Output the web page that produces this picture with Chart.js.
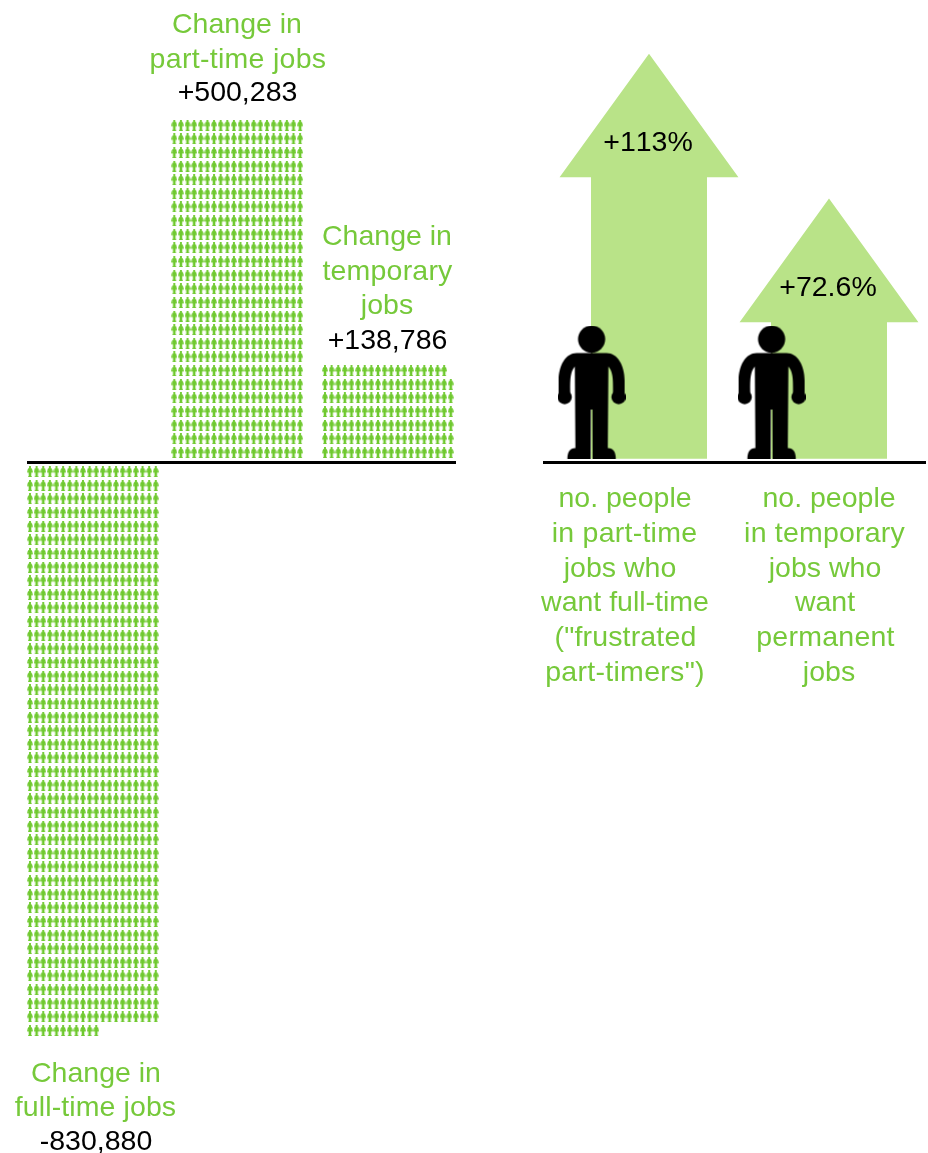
<!DOCTYPE html>
<html>
<head>
<meta charset="utf-8">
<title>Changes in employment</title>
<script src="https://cdn.jsdelivr.net/npm/chart.js@4/dist/chart.umd.min.js"></script>
<style>
  html, body { margin: 0; padding: 0; background: #ffffff; }
  canvas { display: block; }
</style>
</head>
<body>
<canvas id="chart" width="928" height="1153"></canvas>
<script>
// Job changes, one small figure per thousand jobs
const jobCategories = ['Change in full-time jobs', 'Change in part-time jobs', 'Change in temporary jobs'];
const jobChanges = [-830880, 500283, 138786];
// Percentage rise in people who want a different kind of job
const wantCategories = ['frustrated part-timers', 'want permanent jobs'];
const wantChanges = [113, 72.6];

const GREEN = '#6fc92f';
const PALE_GREEN = '#b9e388';
const TEXT_GREEN = '#76c93a';
const JOBS_PER_FIGURE = 1000;
const FIGURES_PER_ROW = 20;

// Pixel layout of the two panels on the 928 x 1153 canvas
const W = 928, H = 1153;
const COL_PX = 6.62, ROW_PX = 13.63, JOB_ZERO_PX = 462;
const GROUP_START_PX = [30, 174.3, 325];
const ARROW_ZERO_PX = 458.7, PCT_PX = 405 / 113, ARROW_X0 = 649, ARROW_STEP = 180;

// Silhouette traced in a 68 x 133 box: head, one half of the body, then its mirror
function personPath(ctx) {
  ctx.beginPath();
  ctx.arc(34, 13.6, 13.6, 0, Math.PI * 2);
  ctx.closePath();
  ctx.fill();
  for (const side of [1, -1]) {
    ctx.save();
    ctx.translate(34, 0);
    ctx.scale(side, 1);
    ctx.translate(-34, 0);
    ctx.beginPath();
    ctx.moveTo(35, 27.5);
    ctx.lineTo(19, 27.5);
    ctx.bezierCurveTo(8, 27.5, 1, 40, 1, 55);
    ctx.lineTo(1, 72);
    ctx.lineTo(12.6, 72);
    ctx.lineTo(12.6, 66);
    ctx.bezierCurveTo(12.4, 52, 13, 46, 17.2, 41);
    ctx.lineTo(17.8, 122.4);
    ctx.bezierCurveTo(12, 122.4, 9.8, 127, 9.8, 133);
    ctx.lineTo(33, 133);
    ctx.lineTo(33.2, 84);
    ctx.lineTo(35, 84);
    ctx.closePath();
    ctx.fill();
    // Rounded hand
    ctx.beginPath();
    ctx.arc(7, 71.5, 7.2, 0, Math.PI * 2);
    ctx.fill();
    ctx.restore();
  }
}

// Draws the silhouette into its own canvas; narrowing keeps tiny figures apart
function personSprite(height, color, passes, widthFactor) {
  const scale = height / 133;
  const c = document.createElement('canvas');
  c.width = Math.ceil(68 * scale);
  c.height = Math.ceil(height);
  const ctx = c.getContext('2d');
  ctx.fillStyle = color;
  ctx.translate(c.width / 2, 0);
  ctx.scale(scale * widthFactor, scale);
  ctx.translate(-34, 0);
  for (let i = 0; i < passes; i++) personPath(ctx);
  return c;
}

// Lay the figures out in rows of twenty, growing away from the zero line
function figurePoints() {
  const pts = [];
  jobChanges.forEach((value, g) => {
    const count = Math.round(Math.abs(value) / JOBS_PER_FIGURE);
    const sign = Math.sign(value);
    const startCol = GROUP_START_PX[g] / COL_PX;
    for (let i = 0; i < count; i++) {
      const col = i % FIGURES_PER_ROW;
      const row = Math.floor(i / FIGURES_PER_ROW);
      pts.push({
        x: startCol + col,
        y: sign * (row + 0.71) * FIGURES_PER_ROW * JOBS_PER_FIGURE
      });
    }
  });
  return pts;
}

// A bar element that paints itself as an upward arrow
class ArrowElement extends Chart.BarElement {
  static id = 'arrowBar';
  draw(ctx) {
    const { x, y, base, width } = this.getProps(['x', 'y', 'base', 'width']);
    const halfShaft = width / 2;
    const halfHead = width * 0.771;
    const headHeight = width * 1.066;
    ctx.save();
    ctx.fillStyle = this.options.backgroundColor;
    ctx.beginPath();
    ctx.moveTo(x, y);
    ctx.lineTo(x + halfHead, y + headHeight);
    ctx.lineTo(x + halfShaft, y + headHeight);
    ctx.lineTo(x + halfShaft, base);
    ctx.lineTo(x - halfShaft, base);
    ctx.lineTo(x - halfShaft, y + headHeight);
    ctx.lineTo(x - halfHead, y + headHeight);
    ctx.closePath();
    ctx.fill();
    ctx.restore();
  }
}
class ArrowController extends Chart.BarController {
  static id = 'arrow';
  static defaults = { ...Chart.BarController.defaults, dataElementType: 'arrowBar' };
  static overrides = Chart.BarController.overrides;
}
Chart.register(ArrowElement, ArrowController);

const fmtSigned = v => (v > 0 ? '+' : '-') + Math.abs(v).toLocaleString('en-US');

// Captions: [text, centre x, centre y, colour, extra letter spacing in px]
const captions = [
  ['Change in', 237, 25, TEXT_GREEN, 0],
  ['part-time jobs', 238, 60, TEXT_GREEN, 0.3],
  [fmtSigned(jobChanges[1]), 237.5, 93, '#000', 0],
  ['Change in', 387, 237, TEXT_GREEN, 0],
  ['temporary', 387.5, 272, TEXT_GREEN, 0.2],
  ['jobs', 387, 306, TEXT_GREEN, 0],
  [fmtSigned(jobChanges[2]), 387.5, 341, '#000', 0],
  ['Change in', 96, 1074, TEXT_GREEN, 0],
  ['full-time jobs', 95.5, 1108, TEXT_GREEN, 0.1],
  [fmtSigned(jobChanges[0]), 96, 1142, '#000', 0],
  ['+' + wantChanges[0] + '%', 648, 143, '#000', 0],
  ['+' + wantChanges[1] + '%', 828, 288, '#000', 0],
  ['no. people', 625, 499, TEXT_GREEN, 0],
  ['in part-time', 624.5, 534, TEXT_GREEN, 0.25],
  ['jobs who', 620, 569, TEXT_GREEN, 0],
  ['want full-time', 625, 603, TEXT_GREEN, 0],
  ['("frustrated', 625.5, 638, TEXT_GREEN, 0.15],
  ['part-timers")', 625, 673, TEXT_GREEN, 0.3],
  ['no. people', 829, 499, TEXT_GREEN, 0],
  ['in temporary', 824.5, 534, TEXT_GREEN, 0.2],
  ['jobs who', 825, 569, TEXT_GREEN, 0],
  ['want', 825, 603, TEXT_GREEN, 0],
  ['permanent', 825.5, 638, TEXT_GREEN, 0.25],
  ['jobs', 829, 673, TEXT_GREEN, 0]
];

// Zero lines under each panel and every caption
const annotations = {
  id: 'annotations',
  afterDatasetsDraw(chart) {
    const { ctx } = chart;
    const y = chart.scales.yJobs.getPixelForValue(0);
    ctx.save();
    ctx.fillStyle = '#000';
    ctx.fillRect(27, y - 1, 429, 3);
    ctx.fillRect(543, y - 1, 383, 3);
    ctx.font = '28.5px "Liberation Sans", Arial, sans-serif';
    ctx.fontKerning = 'none';
    ctx.textAlign = 'center';
    ctx.textBaseline = 'middle';
    for (const [text, x, cy, color, spacing] of captions) {
      ctx.fillStyle = color;
      ctx.letterSpacing = spacing + 'px';
      ctx.fillText(text, x, cy);
    }
    ctx.restore();
  }
};

const arrowRange = { min: -ARROW_X0 / ARROW_STEP, max: (W - ARROW_X0) / ARROW_STEP };

new Chart(document.getElementById('chart'), {
  type: 'scatter',
  data: {
    datasets: [
      {
        type: 'scatter',
        label: 'People wanting another kind of job',
        data: wantChanges.map((_, i) => ({ x: i - 0.319, y: 18.6 })),
        xAxisID: 'xPeople',
        yAxisID: 'yArrows',
        pointStyle: personSprite(133, '#000', 1, 1),
        order: 0
      },
      {
        type: 'arrow',
        label: 'Percentage rise',
        data: wantChanges.map((v, i) => ({ x: i, y: v })),
        xAxisID: 'xArrows',
        yAxisID: 'yArrows',
        backgroundColor: PALE_GREEN,
        barThickness: 116,
        order: 1
      },
      {
        type: 'scatter',
        label: 'Jobs (thousands)',
        data: figurePoints(),
        xAxisID: 'xJobs',
        yAxisID: 'yJobs',
        pointStyle: personSprite(11, GREEN, 2, 0.86),
        order: 2
      }
    ]
  },
  options: {
    responsive: false,
    animation: false,
    events: [],
    layout: { padding: 0, autoPadding: false },
    plugins: { legend: { display: false }, tooltip: { enabled: false } },
    scales: {
      xJobs: { type: 'linear', axis: 'x', display: false, min: 0, max: W / COL_PX },
      yJobs: {
        type: 'linear', axis: 'y', display: false,
        max: JOB_ZERO_PX / ROW_PX * FIGURES_PER_ROW * JOBS_PER_FIGURE,
        min: -(H - JOB_ZERO_PX) / ROW_PX * FIGURES_PER_ROW * JOBS_PER_FIGURE
      },
      xPeople: { type: 'linear', axis: 'x', display: false, offset: false, ...arrowRange },
      xArrows: { type: 'linear', axis: 'x', display: false, offset: false, ...arrowRange },
      yArrows: {
        type: 'linear', axis: 'y', display: false,
        max: ARROW_ZERO_PX / PCT_PX, min: -(H - ARROW_ZERO_PX) / PCT_PX
      }
    }
  },
  plugins: [annotations]
});
</script>
</body>
</html>
